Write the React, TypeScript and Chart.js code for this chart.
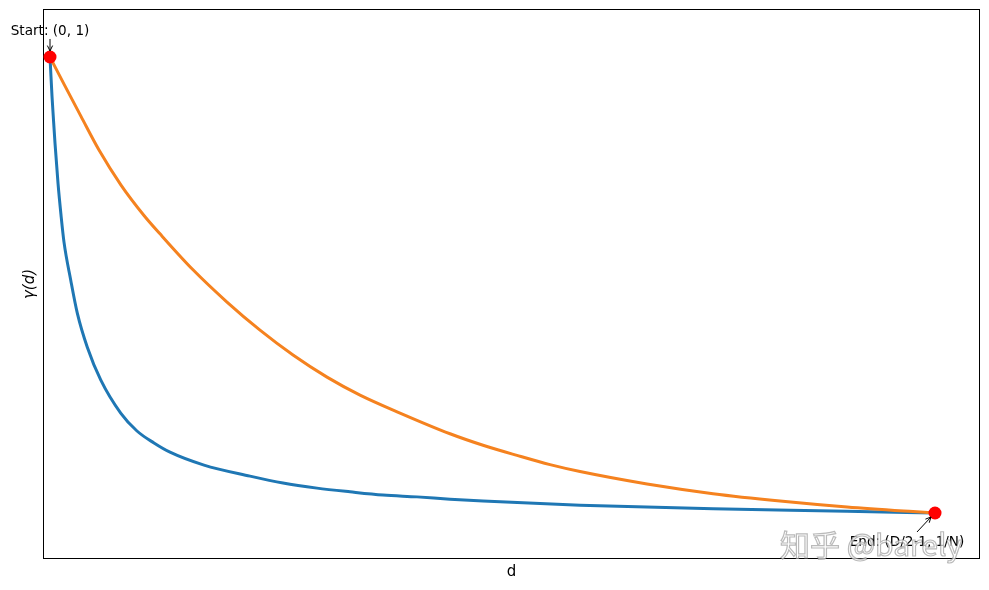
import React, { useEffect, useRef } from "react";
import { Chart, registerables } from "chart.js";

Chart.register(...registerables);

// d values (0 .. D/2-1, here normalised to 100) and gamma(d) values
const blueD = [0, 0.113, 0.226, 0.373, 0.565, 0.904, 1.243, 1.582, 2.339, 3.085, 4.215, 5.729, 7.989, 9.83, 11.75, 13.56, 17.4, 22.6, 26.33, 30.17, 33.9, 37.63, 41.47, 45.2, 48.93, 59.89, 74.92, 90.06, 100];
const blueY = [1.0, 0.957, 0.915, 0.87, 0.813, 0.726, 0.657, 0.598, 0.516, 0.444, 0.37, 0.299, 0.227, 0.188, 0.162, 0.142, 0.114, 0.09, 0.075, 0.064, 0.056, 0.049, 0.045, 0.04, 0.036, 0.027, 0.019, 0.014, 0.01];

const orangeD = [0, 1.582, 3.503, 5.537, 8.023, 10.62, 12.43, 16.16, 20.0, 23.73, 27.46, 31.3, 35.03, 39.55, 45.2, 48.93, 52.77, 56.5, 59.89, 67.46, 74.92, 82.49, 90.06, 97.51, 100];
const orangeY = [1.0, 0.941, 0.871, 0.798, 0.722, 0.656, 0.616, 0.538, 0.468, 0.407, 0.353, 0.305, 0.266, 0.227, 0.182, 0.157, 0.135, 0.115, 0.1, 0.073, 0.052, 0.036, 0.023, 0.013, 0.01];

const markerD = [0, 100];
const markerY = [1.0, 0.01];
const markerLabels = ["Start: (0, 1)", "End: (D/2-1, 1/N)"];

const xLabel = "d";
const yLabel = "γ(d)";
const watermark = "知乎 @barely";

const toPts = (xs: number[], ys: number[]) => xs.map((x, i) => ({ x, y: ys[i] }));

function arrow(ctx: CanvasRenderingContext2D, x0: number, y0: number, x1: number, y1: number) {
  ctx.beginPath();
  ctx.moveTo(x0, y0);
  ctx.lineTo(x1, y1);
  const ang = Math.atan2(y1 - y0, x1 - x0);
  const h = 6;
  const spread = 0.45;
  ctx.moveTo(x1 - h * Math.cos(ang - spread), y1 - h * Math.sin(ang - spread));
  ctx.lineTo(x1, y1);
  ctx.lineTo(x1 - h * Math.cos(ang + spread), y1 - h * Math.sin(ang + spread));
  ctx.stroke();
}

const overlay = {
  id: "overlay",
  beforeDatasetsDraw(chart: any) {
    const { ctx, chartArea: a } = chart;
    ctx.save();
    ctx.strokeStyle = "#000";
    ctx.lineWidth = 1;
    ctx.strokeRect(a.left - 0.5, a.top - 0.5, a.right - a.left + 1, a.bottom - a.top + 1);
    ctx.fillStyle = "#000";
    ctx.textAlign = "center";
    ctx.textBaseline = "middle";
    ctx.font = '15px "DejaVu Sans"';
    ctx.fillText(xLabel, (a.left + a.right) / 2, a.bottom + 14);
    ctx.translate(a.left - 14, (a.top + a.bottom) / 2);
    ctx.rotate(-Math.PI / 2);
    ctx.font = 'italic 15px "DejaVu Sans"';
    ctx.fillText(yLabel, 0, 0);
    ctx.restore();
  },
  afterDraw(chart: any) {
    const { ctx, scales } = chart;
    const xs = scales.x;
    const ys = scales.y;
    ctx.save();
    ctx.fillStyle = "#000";
    ctx.strokeStyle = "#000";
    ctx.lineWidth = 1;
    ctx.font = '13.6px "DejaVu Sans"';
    ctx.textAlign = "center";
    ctx.textBaseline = "middle";
    // start
    const sx = xs.getPixelForValue(markerD[0]);
    const sy = ys.getPixelForValue(markerY[0]);
    ctx.fillText(markerLabels[0], sx, sy - 26);
    arrow(ctx, sx, sy - 18, sx, sy - 6);
    // end
    const ex = xs.getPixelForValue(markerD[1]);
    const ey = ys.getPixelForValue(markerY[1]);
    ctx.fillText(markerLabels[1], ex - 28, ey + 29);
    arrow(ctx, ex - 18, ey + 19, ex - 4, ey + 4);
    // watermark
    ctx.font = '30px "Noto Sans CJK SC"';
    ctx.textAlign = "left";
    ctx.textBaseline = "alphabetic";
    ctx.fillStyle = "rgba(255,255,255,0.7)";
    ctx.strokeStyle = "rgba(140,140,140,0.6)";
    ctx.lineWidth = 1.2;
    ctx.fillText(watermark, 780, 556);
    ctx.strokeText(watermark, 780, 556);
    ctx.restore();
  },
};

export default function App() {
  const ref = useRef<HTMLCanvasElement | null>(null);
  useEffect(() => {
    document.body.style.margin = "0";
    if (!ref.current) return;
    const chart = new Chart(ref.current, {
      type: "line",
      data: {
        datasets: [
          {
            label: "points",
            data: toPts(markerD, markerY),
            showLine: false,
            pointRadius: 6.5,
            pointBackgroundColor: "#ff0000",
            pointBorderColor: "#ff0000",
            pointBorderWidth: 0,
            order: 0,
            clip: false as any,
          },
          {
            label: "orange",
            data: toPts(orangeD, orangeY),
            borderColor: "#f5821f",
            borderWidth: 3,
            pointRadius: 0,
            cubicInterpolationMode: "monotone",
            fill: false,
            order: 1,
          },
          {
            label: "blue",
            data: toPts(blueD, blueY),
            borderColor: "#1f77b4",
            borderWidth: 3,
            pointRadius: 0,
            cubicInterpolationMode: "monotone",
            fill: false,
            order: 2,
          },
        ],
      },
      options: {
        animation: false,
        responsive: true,
        maintainAspectRatio: false,
        layout: { padding: { left: 44, top: 10, right: 10, bottom: 32 } },
        plugins: { legend: { display: false }, tooltip: { enabled: false } },
        events: [],
        scales: {
          x: { type: "linear", display: false, min: -0.678, max: 104.97 },
          y: { type: "linear", display: false, min: -0.0877, max: 1.102 },
        },
      },
      plugins: [overlay],
    });
    return () => chart.destroy();
  }, []);
  return (
    <div style={{ width: 989, height: 590, position: "relative", background: "#fff" }}>
      <canvas ref={ref} />
    </div>
  );
}
